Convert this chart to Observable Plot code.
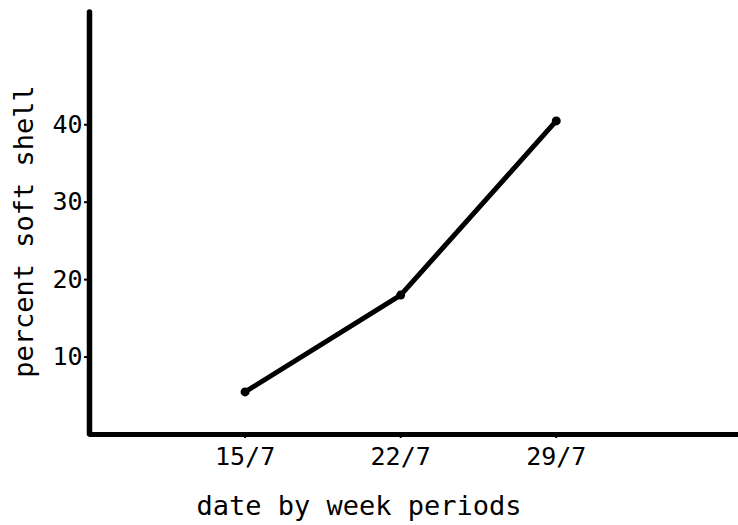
<!DOCTYPE html>
<html>
<head>
<meta charset="utf-8">
<script src="https://cdn.jsdelivr.net/npm/d3@7"></script>
<script src="https://cdn.jsdelivr.net/npm/@observablehq/plot@0.6"></script>
<style>
  html, body { margin: 0; padding: 0; background: #fff; }
  #chart svg { display: block; }
</style>
</head>
<body>
<div id="chart"></div>
<script>
// Data
const days = [15, 22, 29];               // day of July
const dateLabels = ["15/7", "22/7", "29/7"];
const softShell = [5.5, 18, 40.5];       // percent soft shell
const yTicks = [10, 20, 30, 40];

const data = days.map((d, i) => ({day: d, label: dateLabels[i], pct: softShell[i]}));
const labelOf = new Map(days.map((d, i) => [d, dateLabels[i]]));

const font = "'DejaVu Sans Mono', 'Liberation Mono', monospace";

const chart = Plot.plot({
  width: 738,
  height: 525,
  marginLeft: 89,
  marginRight: 0,
  marginTop: 12,
  marginBottom: 91,
  style: {fontFamily: font, fontSize: "25px", color: "#000", background: "#fff"},
  x: {domain: [8, 37.2]},
  y: {domain: [0, 54.5]},
  marks: [
    Plot.axisY({ticks: yTicks, tickSize: 5, tickPadding: 2, tickFormat: d => String(d), label: null, strokeWidth: 2, fontSize: 25}),
    Plot.axisX({ticks: days, tickSize: 4, tickPadding: 9, tickFormat: d => labelOf.get(d), label: null, strokeWidth: 2, fontSize: 25}),
    Plot.ruleX([8], {y1: 0, y2: 54.5, stroke: "#000", strokeWidth: 5.5, strokeLinecap: "round"}),
    Plot.ruleY([0], {x1: 8, x2: 37.2, stroke: "#000", strokeWidth: 5}),
    Plot.line(data, {x: "day", y: "pct", stroke: "#000", strokeWidth: 5, strokeLinejoin: "round", strokeLinecap: "round"}),
    Plot.dot(data, {x: "day", y: "pct", r: 4.5, fill: "#000"}),
    Plot.text(["percent soft shell"], {frameAnchor: "left", textAnchor: "middle", lineAnchor: "middle", dx: -65, dy: 8, rotate: -90, fontSize: 27, fill: "#000"}),
    Plot.text(["date by week periods"], {frameAnchor: "bottom", textAnchor: "middle", dx: -55, dy: 80, fontSize: 27, fill: "#000"})
  ]
});
document.getElementById("chart").appendChild(chart);
</script>
</body>
</html>
